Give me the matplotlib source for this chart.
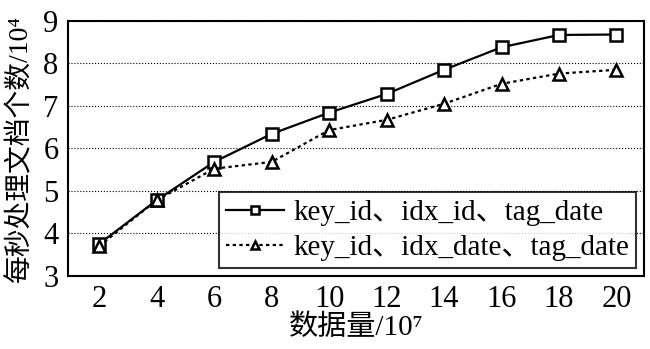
import matplotlib
matplotlib.use("Agg")
import matplotlib.pyplot as plt

# 数据
data_size = [2, 4, 6, 8, 10, 12, 14, 16, 18, 20]
idx_id = [3.75, 4.78, 5.68, 6.34, 6.84, 7.28, 7.85, 8.38, 8.67, 8.68]
idx_date = [3.70, 4.78, 5.52, 5.68, 6.43, 6.67, 7.05, 7.52, 7.76, 7.85]
labels = ["key_id、idx_id、tag_date", "key_id、idx_date、tag_date"]

plt.rcParams['font.family'] = ['Liberation Serif', 'Noto Sans CJK SC']

fig, ax = plt.subplots(figsize=(6.5, 3.49), dpi=100)
fig.subplots_adjust(left=0.105, right=0.99, top=0.94, bottom=0.21)

ax.plot(data_size, idx_id, '-', color='black', lw=1.6, marker='s', ms=9,
        mfc='white', mec='black', mew=1.8, label=labels[0])
ax.plot(data_size, idx_date, linestyle=(0, (1.5, 1.5)), color='black', lw=1.6,
        marker='^', ms=8, mfc='white', mec='black', mew=1.8, label=labels[1])

ax.set_xlim(0.92, 20.94)
ax.set_ylim(3, 9)
ax.set_xticks(data_size)
ax.set_yticks(range(3, 10))
ax.tick_params(axis='both', length=0, labelsize=22, pad=7)
ax.grid(axis='y', linestyle=':', color='black', lw=0.8)
for s in ax.spines.values():
    s.set_linewidth(1.5)

ax.set_xlabel("数据量/10⁷", fontsize=21, labelpad=0)
ax.set_ylabel("每秒处理文档个数/10⁴", fontsize=20)
ax.yaxis.set_label_coords(-0.06, 0.5)

leg = ax.legend(loc='lower right', fontsize=21, frameon=True, fancybox=False,
                edgecolor='black', handlelength=2.0, handletextpad=0.3,
                borderpad=0.25, labelspacing=0.3, borderaxespad=0.25,
                markerscale=0.7)
leg.get_frame().set_linewidth(1.5)

fig.savefig("out.png", dpi=100)
